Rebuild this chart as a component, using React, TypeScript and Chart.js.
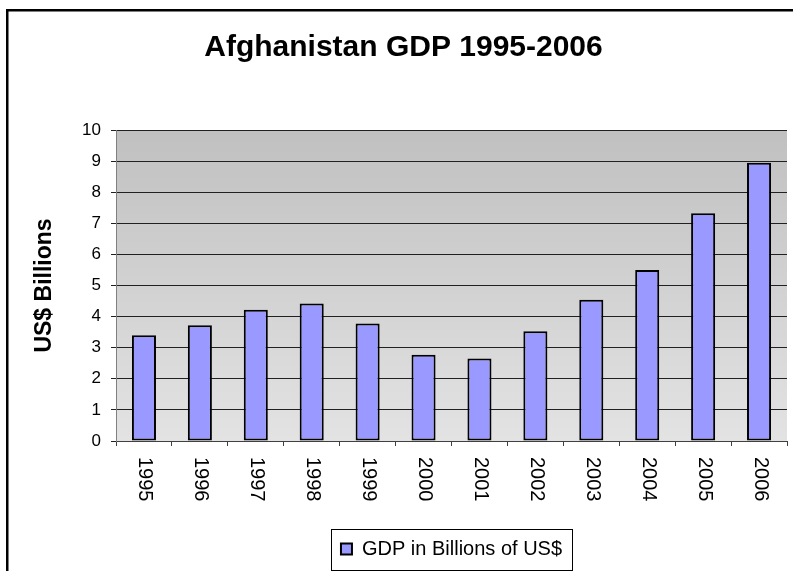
import React, { useEffect, useRef } from "react";
import { Chart, registerables } from "chart.js";

Chart.register(...registerables);

const years = ["1995", "1996", "1997", "1998", "1999", "2000", "2001", "2002", "2003", "2004", "2005", "2006"];
const gdpValues = [3.4, 3.72, 4.22, 4.42, 3.78, 2.77, 2.65, 3.53, 4.54, 5.5, 7.32, 8.95];
const yMin = 0;
const yMax = 10;
const yStep = 1;
const chartTitle = "Afghanistan GDP 1995-2006";
const yAxisTitle = "US$ Billions";
const seriesLabel = "GDP in Billions of US$";

const FONT = "'Liberation Sans', Arial, Helvetica, sans-serif";

const decorPlugin = {
  id: "decor",
  beforeDraw(chart: any) {
    const { ctx, chartArea: a, width, height } = chart;
    ctx.save();
    ctx.fillStyle = "#ffffff";
    ctx.fillRect(0, 0, width, height);
    const g = ctx.createLinearGradient(0, a.top, 0, a.bottom);
    g.addColorStop(0, "#c0c0c0");
    g.addColorStop(1, "#e3e3e3");
    ctx.fillStyle = g;
    ctx.fillRect(a.left, a.top, a.right - a.left, a.bottom - a.top);
    ctx.strokeStyle = "#000";
    ctx.lineWidth = 2.5;
    ctx.strokeRect(7.25, 10.25, width + 50, height + 50);
    ctx.restore();
  },
  afterDraw(chart: any) {
    const { ctx } = chart;
    const xs = chart.scales.x;
    ctx.save();
    ctx.font = `20px ${FONT}`;
    ctx.fillStyle = "#000";
    ctx.textAlign = "left";
    ctx.textBaseline = "middle";
    (chart.data.labels as string[]).forEach((lab, i) => {
      const x = xs.getPixelForTick(i) + 1;
      ctx.save();
      ctx.translate(x, xs.top + 16);
      ctx.rotate(Math.PI / 2);
      ctx.fillText(String(lab), 0, 0);
      ctx.restore();
    });
    const lg = chart.legend;
    if (lg && lg.legendHitBoxes && lg.legendHitBoxes.length) {
      const hb = lg.legendHitBoxes[0];
      const cy = hb.top + hb.height / 2;
      ctx.strokeStyle = "#000";
      ctx.lineWidth = 1;
      ctx.strokeRect(Math.round(hb.left - 10) + 0.5, Math.round(cy - 20) + 0.5, Math.round(hb.width + 20), 41);
    }
    ctx.restore();
  },
};

export default function App() {
  const ref = useRef<HTMLCanvasElement | null>(null);
  useEffect(() => {
    if (!ref.current) return;
    const chart = new Chart(ref.current, {
      type: "bar",
      data: {
        labels: years,
        datasets: [
          {
            label: seriesLabel,
            data: gdpValues,
            backgroundColor: "#9999ff",
            borderColor: "#000000",
            borderWidth: 2,
            borderSkipped: false,
            barPercentage: 0.43,
            categoryPercentage: 1,
          },
        ],
      },
      options: {
        animation: false,
        responsive: true,
        maintainAspectRatio: false,
        events: [],
        layout: { padding: { left: 20, right: 6, top: 0, bottom: 2 } },
        plugins: {
          title: {
            display: true,
            text: chartTitle,
            color: "#000",
            font: { family: FONT, size: 30, weight: "bold" },
            padding: { top: 30, bottom: 64 },
          },
          legend: {
            display: true,
            position: "bottom",
            fullSize: false,
            labels: {
              color: "#000",
              font: { family: FONT, size: 20 },
              boxWidth: 11,
              boxHeight: 11,
              padding: 10,
            },
          },
          tooltip: { enabled: false },
        },
        scales: {
          x: {
            offset: true,
            grid: { display: true, drawOnChartArea: false, drawTicks: true, tickLength: 5, color: "#404040", offset: true },
            border: { color: "#404040", width: 1 },
            ticks: { display: false },
            afterFit: (s: any) => {
              s.height = 88;
            },
          },
          y: {
            min: yMin,
            max: yMax,
            ticks: { stepSize: yStep, color: "#000", font: { family: FONT, size: 17 }, padding: 10 },
            grid: { color: "#202020", tickLength: 5, drawTicks: true },
            border: { color: "#808080", width: 1 },
            title: {
              display: true,
              text: yAxisTitle,
              color: "#000",
              font: { family: FONT, size: 23, weight: "bold" },
              padding: { top: 11, bottom: 0 },
            },
            afterFit: (s: any) => {
              s.width = 96;
            },
          },
        },
      } as any,
      plugins: [decorPlugin],
    });
    return () => chart.destroy();
  }, []);
  return (
    <div style={{ position: "fixed", left: 0, top: 0, width: 793, height: 571, background: "#fff" }}>
      <canvas ref={ref} />
    </div>
  );
}
